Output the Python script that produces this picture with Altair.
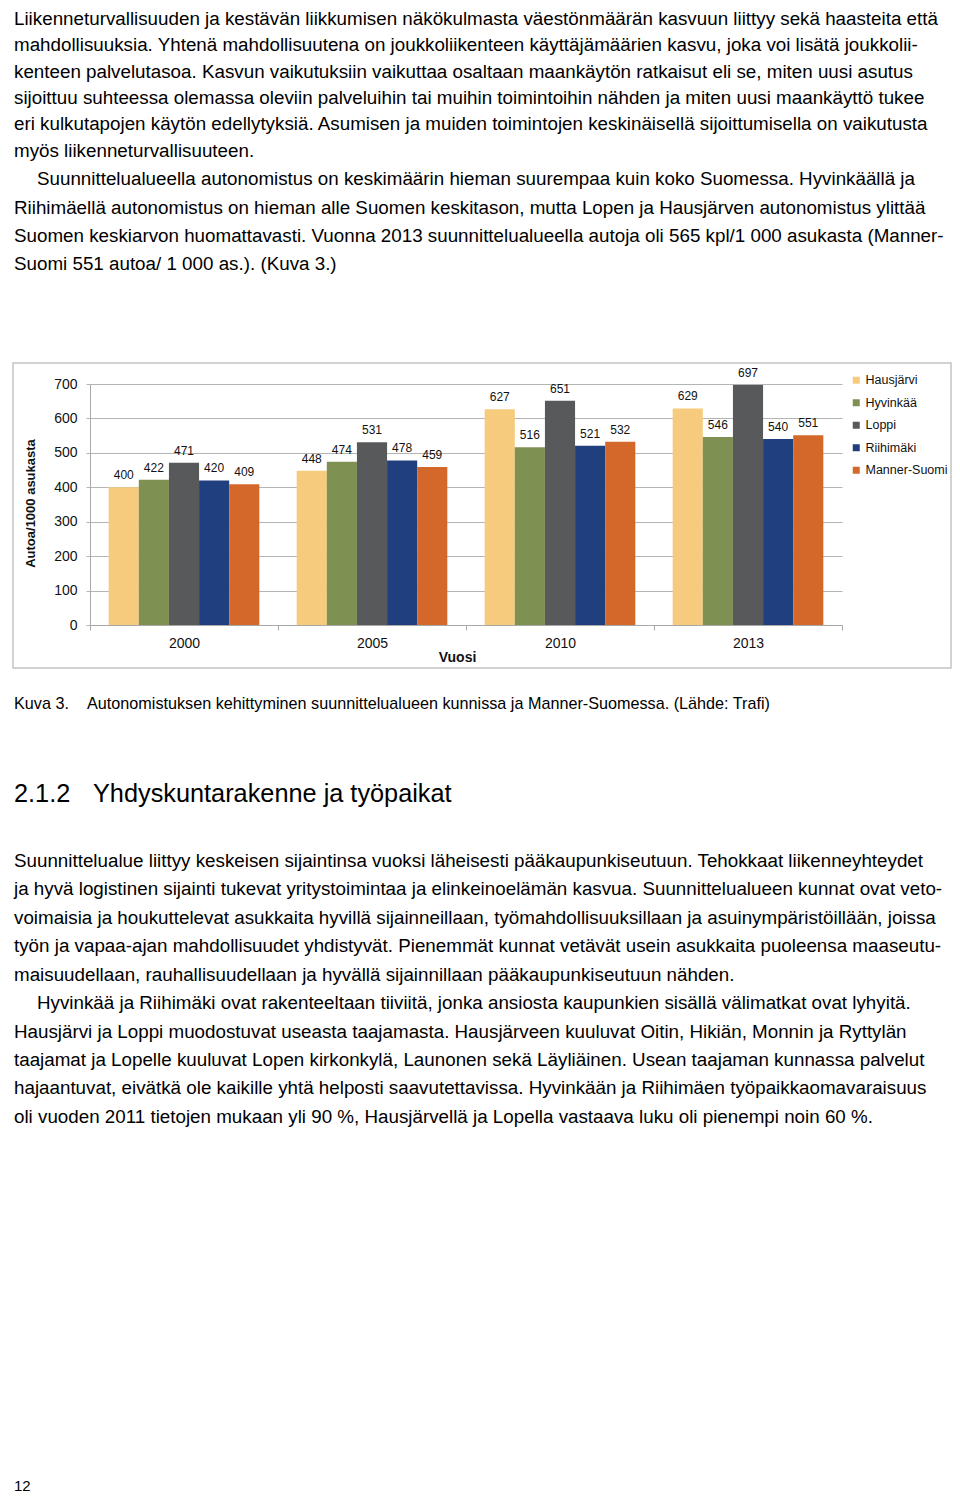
import altair as alt
import pandas as pd

years = ["2000", "2005", "2010", "2013"]
series = ["Hausjärvi", "Hyvinkää", "Loppi", "Riihimäki", "Manner-Suomi"]
colors = ["#F6CB7D", "#7F9152", "#58595B", "#203F7E", "#D4682A"]
hausjarvi = [400, 448, 627, 629]
hyvinkaa = [422, 474, 516, 546]
loppi = [471, 531, 651, 697]
riihimaki = [420, 478, 521, 540]
manner_suomi = [409, 459, 532, 551]
y_ticks = [0, 100, 200, 300, 400, 500, 600, 700]

para1_a = [
    "Liikenneturvallisuuden ja kestävän liikkumisen näkökulmasta väestönmäärän kasvuun liittyy sekä haasteita että",
    "mahdollisuuksia. Yhtenä mahdollisuutena on joukkoliikenteen käyttäjämäärien kasvu, joka voi lisätä joukkolii-",
    "kenteen palvelutasoa. Kasvun vaikutuksiin vaikuttaa osaltaan maankäytön ratkaisut eli se, miten uusi asutus",
    "sijoittuu suhteessa olemassa oleviin palveluihin tai muihin toimintoihin nähden ja miten uusi maankäyttö tukee",
    "eri kulkutapojen käytön edellytyksiä. Asumisen ja muiden toimintojen keskinäisellä sijoittumisella on vaikutusta",
    "myös liikenneturvallisuuteen.",
]
para1_b_first = "Suunnittelualueella autonomistus on keskimäärin hieman suurempaa kuin koko Suomessa. Hyvinkäällä ja"
para1_b = [
    "Riihimäellä autonomistus on hieman alle Suomen keskitason, mutta Lopen ja Hausjärven autonomistus ylittää",
    "Suomen keskiarvon huomattavasti. Vuonna 2013 suunnittelualueella autoja oli 565 kpl/1 000 asukasta (Manner-",
    "Suomi 551 autoa/ 1 000 as.). (Kuva 3.)",
]
caption_num = "Kuva 3."
caption_text = "Autonomistuksen kehittyminen suunnittelualueen kunnissa ja Manner-Suomessa. (Lähde: Trafi)"
heading_num = "2.1.2"
heading_text = "Yhdyskuntarakenne ja työpaikat"
para2 = [
    "Suunnittelualue liittyy keskeisen sijaintinsa vuoksi läheisesti pääkaupunkiseutuun. Tehokkaat liikenneyhteydet",
    "ja hyvä logistinen sijainti tukevat yritystoimintaa ja elinkeinoelämän kasvua. Suunnittelualueen kunnat ovat veto-",
    "voimaisia ja houkuttelevat asukkaita hyvillä sijainneillaan, työmahdollisuuksillaan ja asuinympäristöillään, joissa",
    "työn ja vapaa-ajan mahdollisuudet yhdistyvät. Pienemmät kunnat vetävät usein asukkaita puoleensa maaseutu-",
    "maisuudellaan, rauhallisuudellaan ja hyvällä sijainnillaan pääkaupunkiseutuun nähden.",
]
para3_first = "Hyvinkää ja Riihimäki ovat rakenteeltaan tiiviitä, jonka ansiosta kaupunkien sisällä välimatkat ovat lyhyitä."
para3 = [
    "Hausjärvi ja Loppi muodostuvat useasta taajamasta. Hausjärveen kuuluvat Oitin, Hikiän, Monnin ja Ryttylän",
    "taajamat ja Lopelle kuuluvat Lopen kirkonkylä, Launonen sekä Läyliäinen. Usean taajaman kunnassa palvelut",
    "hajaantuvat, eivätkä ole kaikille yhtä helposti saavutettavissa. Hyvinkään ja Riihimäen työpaikkaomavaraisuus",
    "oli vuoden 2011 tietojen mukaan yli 90 %, Hausjärvellä ja Lopella vastaava luku oli pienempi noin 60 %.",
]
page_number = "12"

FONT = "Liberation Sans"
LH = 28.44
BODY = 18.8

values = [hausjarvi, hyvinkaa, loppi, riihimaki, manner_suomi]
rows = []
for s, vals in zip(series, values):
    for y, v in zip(years, vals):
        rows.append({"Vuosi": y, "Kunta": s, "Arvo": v})
df = pd.DataFrame(rows)

one = pd.DataFrame({"k": [0]})

x_enc = alt.X("Vuosi:N", sort=years,
              scale=alt.Scale(paddingInner=0, paddingOuter=0),
              axis=alt.Axis(title="Vuosi", labelAngle=0, labelFontSize=14, labelFont=FONT,
                            labelColor="#111", labelPadding=6, tickBand="extent",
                            tickSize=5, tickColor="#a8a8a8", domainColor="#a8a8a8",
                            titleFont=FONT, titleFontSize=14, titleFontWeight="bold",
                            titleColor="#111", titleX=367, titleY=32,
                            titleAlign="center", titleBaseline="middle", grid=False))
xo_enc = alt.XOffset("Kunta:N", sort=series,
                     scale=alt.Scale(domain=series, paddingInner=0, paddingOuter=0.62))
y_enc = alt.Y("Arvo:Q", scale=alt.Scale(domain=[0, 700], nice=False),
              axis=alt.Axis(values=y_ticks, title="Autoa/1000 asukasta", labelFontSize=14,
                            labelFont=FONT, labelColor="#111", labelPadding=9, tickSize=4,
                            labelOverlap=False,
                            tickColor="#b4b4b4", domainColor="#a8a8a8", gridColor="#b4b4b4",
                            titleFont=FONT, titleFontSize=13, titleFontWeight="bold",
                            titleColor="#111", titleX=-60, titleY=119, titleAngle=-90,
                            titleAlign="center", titleBaseline="middle"))

bars = alt.Chart(df).mark_bar().encode(
    x=x_enc, xOffset=xo_enc, y=y_enc,
    color=alt.Color("Kunta:N", scale=alt.Scale(domain=series, range=colors),
                    legend=alt.Legend(title=None, orient="none", legendX=760, legendY=-10,
                                      symbolType="square", symbolSize=49, symbolStrokeWidth=0,
                                      labelFontSize=12.5, labelFont=FONT, labelColor="#111",
                                      rowPadding=9.5, labelOffset=3, padding=0)),
)

labels = alt.Chart(df).mark_text(baseline="alphabetic", dy=-8, fontSize=12, font=FONT,
                                 color="#111").encode(
    x=x_enc, xOffset=xo_enc, y=y_enc, text="Arvo:Q")

frame = alt.Chart(one).mark_rect(fill="transparent", stroke="#c4c4c4", strokeWidth=1.5).encode(
    x=alt.value(-77), x2=alt.value(861), y=alt.value(-21), y2=alt.value(284))


def txt(text, x, y, size=BODY, lh=LH):
    return alt.Chart(one).mark_text(text=text, align="left", baseline="alphabetic",
                                    fontSize=size, font=FONT, color="#000",
                                    lineHeight=lh).encode(
        x=alt.value(x), y=alt.value(y))


texts = [
    txt(para1_a, -76, -359, lh=26.3),
    txt(para1_b_first, -53, -199),
    txt(para1_b, -76, -170.5),
    txt(caption_num, -76, 324.5, size=16.2),
    txt(caption_text, -3, 324.5, size=16.2),
    txt(heading_num, -76, 418, size=25.3),
    txt(heading_text, 3, 418, size=25.3),
    txt(para2, -76, 483),
    txt(para3_first, -53, 625),
    txt(para3, -76, 653.5),
    txt(page_number, -76, 1107, size=15),
]

chart = alt.layer(frame, bars, labels, *texts).properties(
    width=752, height=241,
    autosize=alt.AutoSizeParams(type="none"),
    padding={"left": 82, "top": 376, "right": 110, "bottom": 869},
    background="white",
).configure_view(strokeWidth=0)

chart.save("out.html", embed_options={"renderer": "svg", "actions": False})
